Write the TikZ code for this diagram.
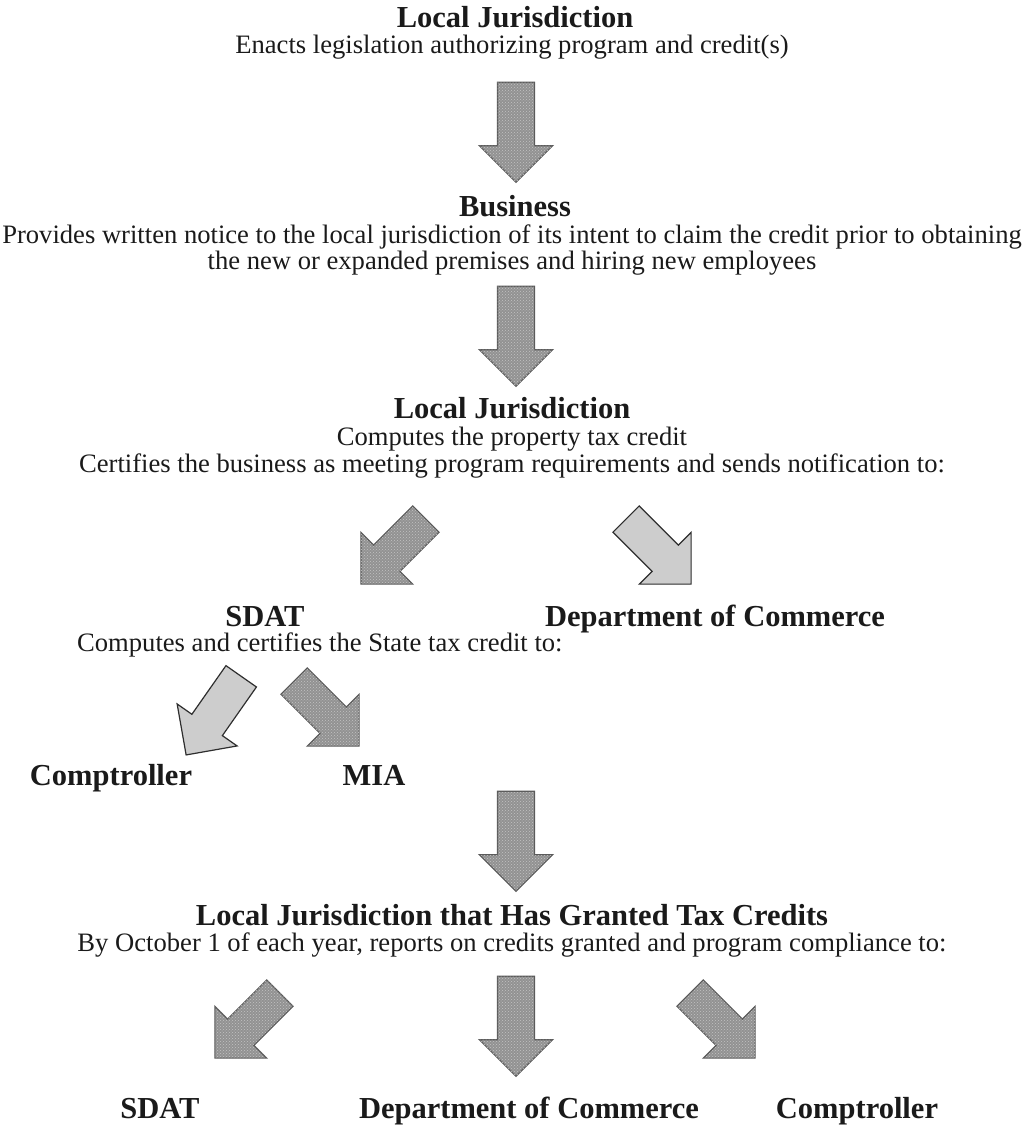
\documentclass[tikz,border=0pt]{standalone}
\usepackage{fontspec}
\setmainfont{Liberation Serif}
\usetikzlibrary{shapes.arrows,patterns}
\definecolor{txt}{HTML}{1A1A1A}
\definecolor{darkfill}{HTML}{929292}
\definecolor{darkdots}{HTML}{C4C4C4}
\definecolor{darkedge}{HTML}{5A5A5A}
\definecolor{lightfill}{HTML}{CDCDCD}
\definecolor{lightedge}{HTML}{2E2E2E}
\tikzset{
  ttl/.style={font=\fontsize{30.5}{31}\selectfont\bfseries, text=txt, anchor=base, inner sep=0pt},
  bdy/.style={font=\fontsize{26.6}{27}\selectfont, text=txt, anchor=base, inner sep=0pt},
  blk/.style={single arrow, single arrow tip angle=90, single arrow head extend=18pt,
              inner xsep=0pt, inner ysep=18pt, line width=1.2pt, line join=miter},
  darkarrow/.style={blk, fill=darkfill, draw=darkedge,
              postaction={pattern=crosshatch dots, pattern color=darkdots}},
  lightarrow/.style={blk, fill=lightfill, draw=lightedge},
  downarr/.style={minimum height=100pt, rotate=-90},
  swarr/.style={minimum height=92pt, rotate=-135},
  searr/.style={minimum height=92pt, rotate=-45}
}
\begin{document}
\begin{tikzpicture}[x=1pt,y=-1pt]
\useasboundingbox (0,0) rectangle (1025,1133);
% level 1
\node[ttl] (lj1) at (515,27) {Local Jurisdiction};
\node[bdy] (lj1t) at (512,53) {Enacts legislation authorizing program and credit(s)};
\node[darkarrow, downarr] (a1) at (516,123) {};
% level 2
\node[ttl] (bus) at (515,216) {Business};
\node[bdy] (bus1) at (512,243) {Provides written notice to the local jurisdiction of its intent to claim the credit prior to obtaining};
\node[bdy] (bus2) at (512,269) {the new or expanded premises and hiring new employees};
\node[darkarrow, downarr] (a2) at (516,327) {};
% level 3
\node[ttl] (lj2) at (512,418) {Local Jurisdiction};
\node[bdy] (lj2a) at (512,445) {Computes the property tax credit};
\node[bdy] (lj2b) at (512,472) {Certifies the business as meeting program requirements and sends notification to:};
\node[darkarrow, swarr] (a3) at (400,545) {};
\node[lightarrow, searr] (a4) at (652,545) {};
% level 4
\node[ttl] (sdat1) at (265,626) {SDAT};
\node[ttl] (doc1) at (715,626) {Department of Commerce};
\node[bdy, anchor=base west] (sdatt) at (77,651) {Computes and certifies the State tax credit to:};
\node[lightarrow, minimum height=96pt, rotate=-125] (a5) at (219,708) {};
\node[darkarrow, searr] (a6) at (320,707) {};
% level 5
\node[ttl] (comp1) at (111,785) {Comptroller};
\node[ttl] (mia) at (374,785) {MIA};
\node[darkarrow, downarr] (a7) at (516,832) {};
% level 6
\node[ttl] (lj3) at (512,925) {Local Jurisdiction that Has Granted Tax Credits};
\node[bdy] (lj3t) at (512,951) {By October 1 of each year, reports on credits granted and program compliance to:};
\node[darkarrow, swarr] (a8) at (254,1019) {};
\node[darkarrow, downarr] (a9) at (516,1017) {};
\node[darkarrow, searr] (a10) at (716,1019) {};
% level 7
\node[ttl] (sdat2) at (160,1118) {SDAT};
\node[ttl] (doc2) at (529,1118) {Department of Commerce};
\node[ttl] (comp2) at (857,1118) {Comptroller};
\end{tikzpicture}
\end{document}
